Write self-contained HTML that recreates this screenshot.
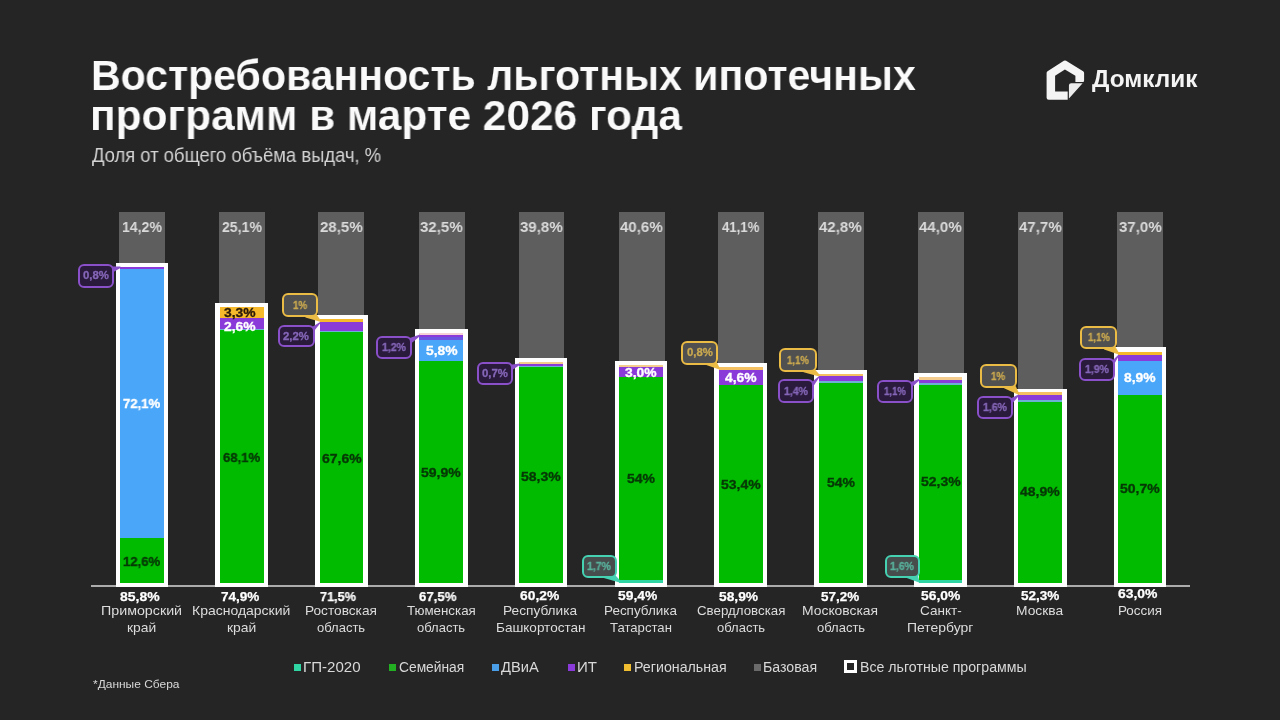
<!DOCTYPE html>
<html lang="ru"><head><meta charset="utf-8"><title>Востребованность льготных ипотечных программ</title>
<style>
*{margin:0;padding:0;box-sizing:border-box}
html,body{width:1280px;height:720px;overflow:hidden;background:#252525}
body{position:relative;font-family:"Liberation Sans",Arial,sans-serif;color:#fff}
.a{position:absolute}
.x{position:absolute;white-space:nowrap;line-height:1;transform-origin:0 0;will-change:transform}
.g{position:absolute;background:#5e5e5e}
.o{position:absolute;background:#fff}
.s{position:absolute}
.co{position:absolute;border-radius:6px;border:2.9px solid}
.sq{position:absolute;width:7px;height:7px}
</style></head><body>

<svg class="a" style="left:1040px;top:55px" width="50" height="50" viewBox="0 0 50 50">
<path d="M8.7 42.7 L8.7 18.1 L25 7.6 L42 18.1 L42 25.6 L28 25.6 L28 42.7 Z" fill="#f4f4f4" stroke="#f4f4f4" stroke-width="4.2" stroke-linejoin="round"/>
<path d="M15.1 36.5 L15.1 20.8 L24.9 14.6 L35.4 20.8 L35.4 36.5 Z" fill="#252525"/>
<path d="M28.3 30.6 Q28.3 27.7 31.2 27.7 L44.2 27.5 L28.3 45.2 Z" fill="#ececec" stroke="#252525" stroke-width="1.2" stroke-linejoin="round"/>
</svg>
<div class="g" style="left:119.1px;top:212.4px;width:45.8px;height:52.4px"></div>
<div class="g" style="left:219.3px;top:212.4px;width:45.8px;height:92.4px"></div>
<div class="g" style="left:318.4px;top:212.4px;width:45.8px;height:104.7px"></div>
<div class="g" style="left:418.9px;top:212.4px;width:45.8px;height:118.6px"></div>
<div class="g" style="left:518.6px;top:212.4px;width:45.8px;height:147.3px"></div>
<div class="g" style="left:618.9px;top:212.4px;width:45.8px;height:150.85px"></div>
<div class="g" style="left:718px;top:212.4px;width:45.8px;height:152.9px"></div>
<div class="g" style="left:818px;top:212.4px;width:45.8px;height:159.7px"></div>
<div class="g" style="left:917.8px;top:212.4px;width:45.8px;height:162.7px"></div>
<div class="g" style="left:1017.6px;top:212.4px;width:45.8px;height:178.1px"></div>
<div class="g" style="left:1117.2px;top:212.4px;width:45.8px;height:136.85px"></div>
<div class="o" style="left:115.5px;top:262.8px;width:52.7px;height:324.4px"></div>
<div class="s" style="left:119.9px;top:266.9px;width:43.9px;height:316.2px;background:#8a3ad8"></div>
<div class="s" style="left:119.9px;top:269px;width:43.9px;height:314.1px;background:#4aa6f8"></div>
<div class="s" style="left:119.9px;top:538.3px;width:43.9px;height:44.8px;background:#00bb00"></div>
<div class="o" style="left:215.33px;top:302.8px;width:52.7px;height:284.4px"></div>
<div class="s" style="left:219.73px;top:306.6px;width:43.9px;height:276.5px;background:#f6b92c"></div>
<div class="s" style="left:219.73px;top:318.4px;width:43.9px;height:264.7px;background:#8a3ad8"></div>
<div class="s" style="left:219.73px;top:328.75px;width:43.9px;height:254.35px;background:#6cb0d4"></div>
<div class="s" style="left:219.73px;top:330px;width:43.9px;height:253.1px;background:#00bb00"></div>
<div class="o" style="left:315.15px;top:315.1px;width:52.7px;height:272.1px"></div>
<div class="s" style="left:319.55px;top:319.3px;width:43.9px;height:263.8px;background:#f6b92c"></div>
<div class="s" style="left:319.55px;top:322.4px;width:43.9px;height:260.7px;background:#8a3ad8"></div>
<div class="s" style="left:319.55px;top:330.7px;width:43.9px;height:252.4px;background:#6cb0d4"></div>
<div class="s" style="left:319.55px;top:332.2px;width:43.9px;height:250.9px;background:#00bb00"></div>
<div class="o" style="left:414.98px;top:329px;width:52.7px;height:258.2px"></div>
<div class="s" style="left:419.38px;top:333.3px;width:43.9px;height:249.8px;background:#f6d2d6"></div>
<div class="s" style="left:419.38px;top:335px;width:43.9px;height:248.1px;background:#8a3ad8"></div>
<div class="s" style="left:419.38px;top:337.2px;width:43.9px;height:245.9px;background:#6a55e0"></div>
<div class="s" style="left:419.38px;top:339.5px;width:43.9px;height:243.6px;background:#4aa6f8"></div>
<div class="s" style="left:419.38px;top:361.4px;width:43.9px;height:221.7px;background:#00bb00"></div>
<div class="o" style="left:514.8px;top:357.7px;width:52.7px;height:229.5px"></div>
<div class="s" style="left:519.2px;top:361.6px;width:43.9px;height:221.5px;background:#f3cc8e"></div>
<div class="s" style="left:519.2px;top:363.9px;width:43.9px;height:219.2px;background:#8a3ad8"></div>
<div class="s" style="left:519.2px;top:365.6px;width:43.9px;height:217.5px;background:#6cb0d4"></div>
<div class="s" style="left:519.2px;top:367.3px;width:43.9px;height:215.8px;background:#00bb00"></div>
<div class="o" style="left:614.62px;top:361.25px;width:52.7px;height:225.95px"></div>
<div class="s" style="left:619.02px;top:365.25px;width:43.9px;height:217.85px;background:#f3cc8e"></div>
<div class="s" style="left:619.02px;top:366.6px;width:43.9px;height:216.5px;background:#8a3ad8"></div>
<div class="s" style="left:619.02px;top:376.9px;width:43.9px;height:206.2px;background:#00bb00"></div>
<div class="s" style="left:619.02px;top:579.5px;width:43.9px;height:3.6px;background:#2fd6a4"></div>
<div class="o" style="left:714.45px;top:363.3px;width:52.7px;height:223.9px"></div>
<div class="s" style="left:718.85px;top:367.1px;width:43.9px;height:216px;background:#f4c062"></div>
<div class="s" style="left:718.85px;top:369.6px;width:43.9px;height:213.5px;background:#8a3ad8"></div>
<div class="s" style="left:718.85px;top:384.6px;width:43.9px;height:198.5px;background:#00bb00"></div>
<div class="o" style="left:814.27px;top:370.1px;width:52.7px;height:217.1px"></div>
<div class="s" style="left:818.67px;top:374px;width:43.9px;height:209.1px;background:#f4c062"></div>
<div class="s" style="left:818.67px;top:376.4px;width:43.9px;height:206.7px;background:#8a3ad8"></div>
<div class="s" style="left:818.67px;top:381.3px;width:43.9px;height:201.8px;background:#6cb0d4"></div>
<div class="s" style="left:818.67px;top:382.8px;width:43.9px;height:200.3px;background:#00bb00"></div>
<div class="o" style="left:914.1px;top:373.1px;width:52.7px;height:214.1px"></div>
<div class="s" style="left:918.5px;top:376.8px;width:43.9px;height:206.3px;background:#f3cc8e"></div>
<div class="s" style="left:918.5px;top:379.5px;width:43.9px;height:203.6px;background:#8a3ad8"></div>
<div class="s" style="left:918.5px;top:383.4px;width:43.9px;height:199.7px;background:#6cb0d4"></div>
<div class="s" style="left:918.5px;top:384.6px;width:43.9px;height:198.5px;background:#00bb00"></div>
<div class="s" style="left:918.5px;top:579.5px;width:43.9px;height:3.6px;background:#2fd6a4"></div>
<div class="o" style="left:1013.93px;top:388.5px;width:52.7px;height:198.7px"></div>
<div class="s" style="left:1018.33px;top:392.4px;width:43.9px;height:190.7px;background:#f4c062"></div>
<div class="s" style="left:1018.33px;top:394.9px;width:43.9px;height:188.2px;background:#8a3ad8"></div>
<div class="s" style="left:1018.33px;top:400.2px;width:43.9px;height:182.9px;background:#6cb0d4"></div>
<div class="s" style="left:1018.33px;top:401.5px;width:43.9px;height:181.6px;background:#00bb00"></div>
<div class="o" style="left:1113.75px;top:347.25px;width:52.7px;height:239.95px"></div>
<div class="s" style="left:1118.15px;top:351.9px;width:43.9px;height:231.2px;background:#f6b92c"></div>
<div class="s" style="left:1118.15px;top:355px;width:43.9px;height:228.1px;background:#8a3ad8"></div>
<div class="s" style="left:1118.15px;top:361.25px;width:43.9px;height:221.85px;background:#4aa6f8"></div>
<div class="s" style="left:1118.15px;top:394.75px;width:43.9px;height:188.35px;background:#00bb00"></div>
<div class="a" style="left:91.1px;top:585.1px;width:1099.2px;height:2px;background:#acacac"></div>
<div class="a" style="left:115.5px;top:583.1px;width:52.7px;height:4.1px;background:#fff"></div>
<div class="a" style="left:215.33px;top:583.1px;width:52.7px;height:4.1px;background:#fff"></div>
<div class="a" style="left:315.15px;top:583.1px;width:52.7px;height:4.1px;background:#fff"></div>
<div class="a" style="left:414.98px;top:583.1px;width:52.7px;height:4.1px;background:#fff"></div>
<div class="a" style="left:514.8px;top:583.1px;width:52.7px;height:4.1px;background:#fff"></div>
<div class="a" style="left:614.62px;top:583.1px;width:52.7px;height:4.1px;background:#fff"></div>
<div class="a" style="left:714.45px;top:583.1px;width:52.7px;height:4.1px;background:#fff"></div>
<div class="a" style="left:814.27px;top:583.1px;width:52.7px;height:4.1px;background:#fff"></div>
<div class="a" style="left:914.1px;top:583.1px;width:52.7px;height:4.1px;background:#fff"></div>
<div class="a" style="left:1013.93px;top:583.1px;width:52.7px;height:4.1px;background:#fff"></div>
<div class="a" style="left:1113.75px;top:583.1px;width:52.7px;height:4.1px;background:#fff"></div>
<svg class="a" style="left:0;top:0" width="1280" height="720"><polygon points="111.7,266.6 111.7,273.1 120.4,268.1 120.4,266.4" fill="#8a50c9"/><polygon points="304.5,315.2 316.5,314.2 320.05,319.6 320.05,321.8 305.5,317.4" fill="#eabb45"/><polygon points="312.1,327 312.1,333.5 320.05,323.6 320.05,321.9" fill="#8a50c9"/><polygon points="409.8,338.1 409.8,344.6 419.88,336.2 419.88,334.5" fill="#8a50c9"/><polygon points="510.3,364.7 510.3,371.2 519.7,365.1 519.7,363.4" fill="#8a50c9"/><polygon points="602.8,575.8 614.8,574.8 619.52,579.7 619.52,582.5 603.8,578" fill="#45d2b2"/><polygon points="704.5,362.6 716.5,361.6 719.35,367.4 719.35,369.6 705.5,364.8" fill="#eabb45"/><polygon points="802.6,370 814.6,369 819.17,374.3 819.17,376.5 803.6,372.2" fill="#eabb45"/><polygon points="811.9,381.9 811.9,388.4 819.17,377.6 819.17,375.9" fill="#8a50c9"/><polygon points="910.2,382.2 910.2,388.7 919,380.7 919,379" fill="#8a50c9"/><polygon points="905.8,575.8 917.8,574.8 919,579.7 919,582.5 906.8,578" fill="#45d2b2"/><polygon points="1003.1,386 1015.1,385 1018.83,392.7 1018.83,394.9 1004.1,388.2" fill="#eabb45"/><polygon points="1011,398.3 1011,404.8 1018.83,396.1 1018.83,394.4" fill="#8a50c9"/><polygon points="1103.2,347.4 1115.2,346.4 1118.65,352.2 1118.65,354.4 1104.2,349.6" fill="#eabb45"/><polygon points="1112.5,360.6 1112.5,367.1 1118.65,356.2 1118.65,354.5" fill="#8a50c9"/></svg>
<div class="co" style="left:77.6px;top:264.1px;width:36.6px;height:23.5px;border-color:#8a50c9;background:#2a1a3b"></div>
<div class="co" style="left:282.2px;top:293.2px;width:36.3px;height:24px;border-color:#eabb45;background:#505050"></div>
<div class="co" style="left:278px;top:324.5px;width:36.6px;height:22.8px;border-color:#8a50c9;background:#2a1a3b"></div>
<div class="co" style="left:376.2px;top:335.6px;width:36.1px;height:23.4px;border-color:#8a50c9;background:#2a1a3b"></div>
<div class="co" style="left:477.4px;top:362.2px;width:35.4px;height:23px;border-color:#8a50c9;background:#2a1a3b"></div>
<div class="co" style="left:582px;top:554.6px;width:34.8px;height:23.2px;border-color:#45d2b2;background:#474c4c"></div>
<div class="co" style="left:681.3px;top:340.7px;width:37.2px;height:23.9px;border-color:#eabb45;background:#505050"></div>
<div class="co" style="left:779.4px;top:347.8px;width:37.2px;height:24.2px;border-color:#eabb45;background:#505050"></div>
<div class="co" style="left:778.4px;top:379.4px;width:36px;height:23.3px;border-color:#8a50c9;background:#2a1a3b"></div>
<div class="co" style="left:877.4px;top:379.7px;width:35.3px;height:23.4px;border-color:#8a50c9;background:#2a1a3b"></div>
<div class="co" style="left:885px;top:554.8px;width:34.8px;height:23px;border-color:#45d2b2;background:#474c4c"></div>
<div class="co" style="left:980.2px;top:364.2px;width:36.9px;height:23.8px;border-color:#eabb45;background:#505050"></div>
<div class="co" style="left:977.3px;top:395.8px;width:36.2px;height:23.3px;border-color:#8a50c9;background:#2a1a3b"></div>
<div class="co" style="left:1080px;top:326.3px;width:37.2px;height:23.1px;border-color:#eabb45;background:#505050"></div>
<div class="co" style="left:1079.4px;top:358.1px;width:35.6px;height:23.2px;border-color:#8a50c9;background:#2a1a3b"></div>
<div class="sq" style="left:294px;top:663.8px;background:#2fd6a4"></div>
<div class="sq" style="left:389px;top:663.8px;background:#22b022"></div>
<div class="sq" style="left:491.7px;top:663.8px;background:#4a9ee8"></div>
<div class="sq" style="left:567.9px;top:663.8px;background:#8a3ad8"></div>
<div class="sq" style="left:624.4px;top:663.8px;background:#f0bc30"></div>
<div class="sq" style="left:754.4px;top:663.8px;background:#6a6a6a"></div>
<div class="a" style="left:844.2px;top:659.7px;width:13.1px;height:13.1px;border:3.6px solid #fff"></div>
<div class="x" style="left:91.09px;top:53.79px;font-size:43px;font-weight:700;color:#fafafa;transform:scaleX(0.9547434009289679);-webkit-text-stroke:0.1px #252525">Востребованность льготных ипотечных</div>
<div class="x" style="left:89.64px;top:94.19px;font-size:43px;font-weight:700;color:#fafafa;transform:scaleX(0.9861952900425551);-webkit-text-stroke:0.1px #252525">программ в марте 2026 года</div>
<div class="x" style="left:92px;top:146.26px;font-size:19.3px;font-weight:400;color:#d4d4d4;transform:scaleX(0.955107886386971)">Доля от общего объёма выдач, %</div>
<div class="x" style="left:1092px;top:67.83px;font-size:23px;font-weight:700;color:#f4f4f4;transform:scaleX(1.0603365325909102)">Домклик</div>
<div class="x" style="left:121.76px;top:219.48px;font-size:15.5px;font-weight:700;color:#dadada;transform:scaleX(0.9096285224697366)">14,2%</div>
<div class="x" style="left:123.25px;top:396.72px;font-size:13.5px;font-weight:700;color:#ffffff;transform:scaleX(0.9719162616250144);-webkit-text-stroke:0.35px #ffffff">72,1%</div>
<div class="x" style="left:123.25px;top:554.72px;font-size:13.5px;font-weight:700;color:#063806;transform:scaleX(0.9719162616250144);-webkit-text-stroke:0.35px #063806">12,6%</div>
<div class="x" style="left:120.2px;top:590.04px;font-size:13.3px;font-weight:700;color:#ffffff;transform:scaleX(1.0506976701093302);-webkit-text-stroke:0.25px #fff">85,8%</div>
<div class="x" style="left:100.9px;top:604.19px;font-size:13px;font-weight:400;color:#dcdcdc;transform:scaleX(1.096555662297703)">Приморский</div>
<div class="x" style="left:127.4px;top:620.99px;font-size:13px;font-weight:400;color:#dcdcdc;transform:scaleX(1.0645562790028418)">край</div>
<div class="x" style="left:221.59px;top:219.48px;font-size:15.5px;font-weight:700;color:#dadada;transform:scaleX(0.9096285224697366)">25,1%</div>
<div class="x" style="left:224.07px;top:305.62px;font-size:13.5px;font-weight:700;color:#2a1a08;transform:scaleX(1.0270796137151743);-webkit-text-stroke:0.35px #2a1a08">3,3%</div>
<div class="x" style="left:224.07px;top:320.42px;font-size:13.5px;font-weight:700;color:#ffffff;transform:scaleX(1.0270796137151743);-webkit-text-stroke:0.35px #ffffff">2,6%</div>
<div class="x" style="left:222.58px;top:451.02px;font-size:13.5px;font-weight:700;color:#063806;transform:scaleX(0.9719162616250144);-webkit-text-stroke:0.35px #063806">68,1%</div>
<div class="x" style="left:220.9px;top:590.04px;font-size:13.3px;font-weight:700;color:#ffffff;transform:scaleX(1.0190183433723656);-webkit-text-stroke:0.25px #fff">74,9%</div>
<div class="x" style="left:192.1px;top:604.19px;font-size:13px;font-weight:400;color:#dcdcdc;transform:scaleX(1.0759739802522896)">Краснодарский</div>
<div class="x" style="left:227.18px;top:620.99px;font-size:13px;font-weight:400;color:#dcdcdc;transform:scaleX(1.068239864743336)">край</div>
<div class="x" style="left:320.06px;top:219.48px;font-size:15.5px;font-weight:700;color:#dadada;transform:scaleX(0.9707594715604445)">28,5%</div>
<div class="x" style="left:321.65px;top:452.22px;font-size:13.5px;font-weight:700;color:#063806;transform:scaleX(1.0372332146912115);-webkit-text-stroke:0.35px #063806">67,6%</div>
<div class="x" style="left:320.3px;top:590.04px;font-size:13.3px;font-weight:700;color:#ffffff;transform:scaleX(0.950379802108942);-webkit-text-stroke:0.25px #fff">71,5%</div>
<div class="x" style="left:305.05px;top:604.19px;font-size:13px;font-weight:400;color:#dcdcdc;transform:scaleX(1.0515207333168954)">Ростовская</div>
<div class="x" style="left:317.3px;top:620.99px;font-size:13px;font-weight:400;color:#dcdcdc">область</div>
<div class="x" style="left:419.89px;top:219.48px;font-size:15.5px;font-weight:700;color:#dadada;transform:scaleX(0.9707594715604445)">32,5%</div>
<div class="x" style="left:425.52px;top:343.82px;font-size:13.5px;font-weight:700;color:#ffffff;transform:scaleX(1.0270796137151743);-webkit-text-stroke:0.35px #ffffff">5,8%</div>
<div class="x" style="left:421.47px;top:465.92px;font-size:13.5px;font-weight:700;color:#063806;transform:scaleX(1.0372332146912115);-webkit-text-stroke:0.35px #063806">59,9%</div>
<div class="x" style="left:419.15px;top:590.04px;font-size:13.3px;font-weight:700;color:#ffffff;transform:scaleX(0.9899789605301479);-webkit-text-stroke:0.25px #fff">67,5%</div>
<div class="x" style="left:406.95px;top:604.19px;font-size:13px;font-weight:400;color:#dcdcdc;transform:scaleX(1.0257605781559622)">Тюменская</div>
<div class="x" style="left:417.12px;top:620.99px;font-size:13px;font-weight:400;color:#dcdcdc">область</div>
<div class="x" style="left:519.71px;top:219.48px;font-size:15.5px;font-weight:700;color:#dadada;transform:scaleX(0.9707594715604445)">39,8%</div>
<div class="x" style="left:521.3px;top:469.52px;font-size:13.5px;font-weight:700;color:#063806;transform:scaleX(1.0372332146912115);-webkit-text-stroke:0.35px #063806">58,3%</div>
<div class="x" style="left:519.7px;top:588.84px;font-size:13.3px;font-weight:700;color:#ffffff;transform:scaleX(1.040137894530342);-webkit-text-stroke:0.25px #fff">60,2%</div>
<div class="x" style="left:503.15px;top:604.19px;font-size:13px;font-weight:400;color:#dcdcdc;transform:scaleX(1.0527475584986505)">Республика</div>
<div class="x" style="left:495.96px;top:620.99px;font-size:13px;font-weight:400;color:#dcdcdc;transform:scaleX(1.0415878537939613)">Башкортостан</div>
<div class="x" style="left:619.54px;top:219.48px;font-size:15.5px;font-weight:700;color:#dadada;transform:scaleX(0.9707594715604445)">40,6%</div>
<div class="x" style="left:625.18px;top:365.62px;font-size:13.5px;font-weight:700;color:#ffffff;transform:scaleX(1.0270796137151743);-webkit-text-stroke:0.35px #ffffff">3,0%</div>
<div class="x" style="left:626.98px;top:471.52px;font-size:13.5px;font-weight:700;color:#063806;transform:scaleX(1.0364185147029588);-webkit-text-stroke:0.35px #063806">54%</div>
<div class="x" style="left:617.8px;top:588.84px;font-size:13.3px;font-weight:700;color:#ffffff;transform:scaleX(1.040137894530342);-webkit-text-stroke:0.25px #fff">59,4%</div>
<div class="x" style="left:603.59px;top:604.19px;font-size:13px;font-weight:400;color:#dcdcdc;transform:scaleX(1.035652875546034)">Республика</div>
<div class="x" style="left:610.12px;top:620.99px;font-size:13px;font-weight:400;color:#dcdcdc;transform:scaleX(1.009697318375044)">Татарстан</div>
<div class="x" style="left:722.06px;top:219.48px;font-size:15.5px;font-weight:700;color:#dadada;transform:scaleX(0.8484975733790284)">41,1%</div>
<div class="x" style="left:725px;top:370.52px;font-size:13.5px;font-weight:700;color:#ffffff;transform:scaleX(1.0270796137151743);-webkit-text-stroke:0.35px #ffffff">4,6%</div>
<div class="x" style="left:720.95px;top:478.02px;font-size:13.5px;font-weight:700;color:#063806;transform:scaleX(1.0372332146912115);-webkit-text-stroke:0.35px #063806">53,4%</div>
<div class="x" style="left:719.45px;top:590.04px;font-size:13.3px;font-weight:700;color:#ffffff;transform:scaleX(1.037497950635595);-webkit-text-stroke:0.25px #fff">58,9%</div>
<div class="x" style="left:696.65px;top:604.19px;font-size:13px;font-weight:400;color:#dcdcdc;transform:scaleX(1.0229342021902434)">Свердловская</div>
<div class="x" style="left:716.6px;top:620.99px;font-size:13px;font-weight:400;color:#dcdcdc">область</div>
<div class="x" style="left:819.19px;top:219.48px;font-size:15.5px;font-weight:700;color:#dadada;transform:scaleX(0.9707594715604445)">42,8%</div>
<div class="x" style="left:826.62px;top:476.22px;font-size:13.5px;font-weight:700;color:#063806;transform:scaleX(1.0364185147029588);-webkit-text-stroke:0.35px #063806">54%</div>
<div class="x" style="left:821.25px;top:590.04px;font-size:13.3px;font-weight:700;color:#ffffff;transform:scaleX(1.0110985116881244);-webkit-text-stroke:0.25px #fff">57,2%</div>
<div class="x" style="left:802.06px;top:604.19px;font-size:13px;font-weight:400;color:#dcdcdc;transform:scaleX(1.0678902909583898)">Московская</div>
<div class="x" style="left:816.62px;top:620.99px;font-size:13px;font-weight:400;color:#dcdcdc;transform:scaleX(0.9925285731594039)">область</div>
<div class="x" style="left:919.01px;top:219.48px;font-size:15.5px;font-weight:700;color:#dadada;transform:scaleX(0.9707594715604445)">44,0%</div>
<div class="x" style="left:920.6px;top:475.32px;font-size:13.5px;font-weight:700;color:#063806;transform:scaleX(1.0372332146912115);-webkit-text-stroke:0.35px #063806">52,3%</div>
<div class="x" style="left:920.55px;top:588.84px;font-size:13.3px;font-weight:700;color:#ffffff;transform:scaleX(1.0427778384250892);-webkit-text-stroke:0.25px #fff">56,0%</div>
<div class="x" style="left:919.75px;top:604.19px;font-size:13px;font-weight:400;color:#dcdcdc;transform:scaleX(1.0420086273642295)">Санкт-</div>
<div class="x" style="left:906.58px;top:620.99px;font-size:13px;font-weight:400;color:#dcdcdc;transform:scaleX(1.0726964964389512)">Петербург</div>
<div class="x" style="left:1018.84px;top:219.48px;font-size:15.5px;font-weight:700;color:#dadada;transform:scaleX(0.9707594715604445)">47,7%</div>
<div class="x" style="left:1020.43px;top:485.42px;font-size:13.5px;font-weight:700;color:#063806;transform:scaleX(1.0372332146912115);-webkit-text-stroke:0.35px #063806">48,9%</div>
<div class="x" style="left:1020.9px;top:588.84px;font-size:13.3px;font-weight:700;color:#ffffff;transform:scaleX(1.0190183433723656);-webkit-text-stroke:0.25px #fff">52,3%</div>
<div class="x" style="left:1015.76px;top:604.19px;font-size:13px;font-weight:400;color:#dcdcdc;transform:scaleX(1.0622195189383468)">Москва</div>
<div class="x" style="left:1118.66px;top:219.48px;font-size:15.5px;font-weight:700;color:#dadada;transform:scaleX(0.9707594715604445)">37,0%</div>
<div class="x" style="left:1124.3px;top:371.42px;font-size:13.5px;font-weight:700;color:#ffffff;transform:scaleX(1.0270796137151743);-webkit-text-stroke:0.35px #ffffff">8,9%</div>
<div class="x" style="left:1120.25px;top:482.32px;font-size:13.5px;font-weight:700;color:#063806;transform:scaleX(1.0372332146912115);-webkit-text-stroke:0.35px #063806">50,7%</div>
<div class="x" style="left:1118.45px;top:587.34px;font-size:13.3px;font-weight:700;color:#ffffff;transform:scaleX(1.0480577262145834);-webkit-text-stroke:0.25px #fff">63,0%</div>
<div class="x" style="left:1117.57px;top:604.19px;font-size:13px;font-weight:400;color:#dcdcdc;transform:scaleX(1.0338698505500181)">Россия</div>
<div class="x" style="left:82.79px;top:270.49px;font-size:11px;font-weight:700;color:#8566b8;transform:scaleX(1.0370280904299476);-webkit-text-stroke:0.3px #8566b8">0,8%</div>
<div class="x" style="left:293.13px;top:299.84px;font-size:11px;font-weight:700;color:#c9a850;transform:scaleX(0.8960348995728437);-webkit-text-stroke:0.3px #c9a850">1%</div>
<div class="x" style="left:283.19px;top:330.54px;font-size:11px;font-weight:700;color:#8566b8;transform:scaleX(1.0370280904299476);-webkit-text-stroke:0.3px #8566b8">2,2%</div>
<div class="x" style="left:382.17px;top:341.94px;font-size:11px;font-weight:700;color:#8566b8;transform:scaleX(0.9549847288452998);-webkit-text-stroke:0.3px #8566b8">1,2%</div>
<div class="x" style="left:481.99px;top:368.34px;font-size:11px;font-weight:700;color:#8566b8;transform:scaleX(1.0370280904299476);-webkit-text-stroke:0.3px #8566b8">0,7%</div>
<div class="x" style="left:587.32px;top:560.84px;font-size:11px;font-weight:700;color:#58b09c;transform:scaleX(0.9549847288452998);-webkit-text-stroke:0.3px #58b09c">1,7%</div>
<div class="x" style="left:686.79px;top:347.29px;font-size:11px;font-weight:700;color:#c9a850;transform:scaleX(1.0370280904299476);-webkit-text-stroke:0.3px #c9a850">0,8%</div>
<div class="x" style="left:786.96px;top:354.54px;font-size:11px;font-weight:700;color:#c9a850;transform:scaleX(0.8729413672606522);-webkit-text-stroke:0.3px #c9a850">1,1%</div>
<div class="x" style="left:784.32px;top:385.69px;font-size:11px;font-weight:700;color:#8566b8;transform:scaleX(0.9549847288452998);-webkit-text-stroke:0.3px #8566b8">1,4%</div>
<div class="x" style="left:884.01px;top:386.04px;font-size:11px;font-weight:700;color:#8566b8;transform:scaleX(0.8729413672606522);-webkit-text-stroke:0.3px #8566b8">1,1%</div>
<div class="x" style="left:890.32px;top:560.94px;font-size:11px;font-weight:700;color:#58b09c;transform:scaleX(0.9549847288452998);-webkit-text-stroke:0.3px #58b09c">1,6%</div>
<div class="x" style="left:991.43px;top:370.74px;font-size:11px;font-weight:700;color:#c9a850;transform:scaleX(0.8960348995728437);-webkit-text-stroke:0.3px #c9a850">1%</div>
<div class="x" style="left:983.32px;top:402.09px;font-size:11px;font-weight:700;color:#8566b8;transform:scaleX(0.9549847288452998);-webkit-text-stroke:0.3px #8566b8">1,6%</div>
<div class="x" style="left:1087.56px;top:332.49px;font-size:11px;font-weight:700;color:#c9a850;transform:scaleX(0.8729413672606522);-webkit-text-stroke:0.3px #c9a850">1,1%</div>
<div class="x" style="left:1085.12px;top:364.34px;font-size:11px;font-weight:700;color:#8566b8;transform:scaleX(0.9549847288452998);-webkit-text-stroke:0.3px #8566b8">1,9%</div>
<div class="x" style="left:303.11px;top:660.92px;font-size:13.8px;font-weight:400;color:#d8d8d8;transform:scaleX(1.092274999750585)">ГП-2020</div>
<div class="x" style="left:399.4px;top:660.92px;font-size:13.8px;font-weight:400;color:#d8d8d8;transform:scaleX(0.9985390389891822)">Семейная</div>
<div class="x" style="left:501px;top:660.92px;font-size:13.8px;font-weight:400;color:#d8d8d8;transform:scaleX(1.0647352608668934)">ДВиА</div>
<div class="x" style="left:576.61px;top:660.92px;font-size:13.8px;font-weight:400;color:#d8d8d8;transform:scaleX(1.0883819802142098)">ИТ</div>
<div class="x" style="left:634.17px;top:660.92px;font-size:13.8px;font-weight:400;color:#d8d8d8;transform:scaleX(1.030450555509389)">Региональная</div>
<div class="x" style="left:763.27px;top:660.92px;font-size:13.8px;font-weight:400;color:#d8d8d8;transform:scaleX(1.0260576625712985)">Базовая</div>
<div class="x" style="left:859.67px;top:660.92px;font-size:13.8px;font-weight:400;color:#d8d8d8;transform:scaleX(1.0263411264842504)">Все льготные программы</div>
<div class="x" style="left:93.4px;top:678.99px;font-size:11px;font-weight:400;color:#d8d8d8;transform:scaleX(1.0866106551405954)">*Данные Сбера</div>
</body></html>
